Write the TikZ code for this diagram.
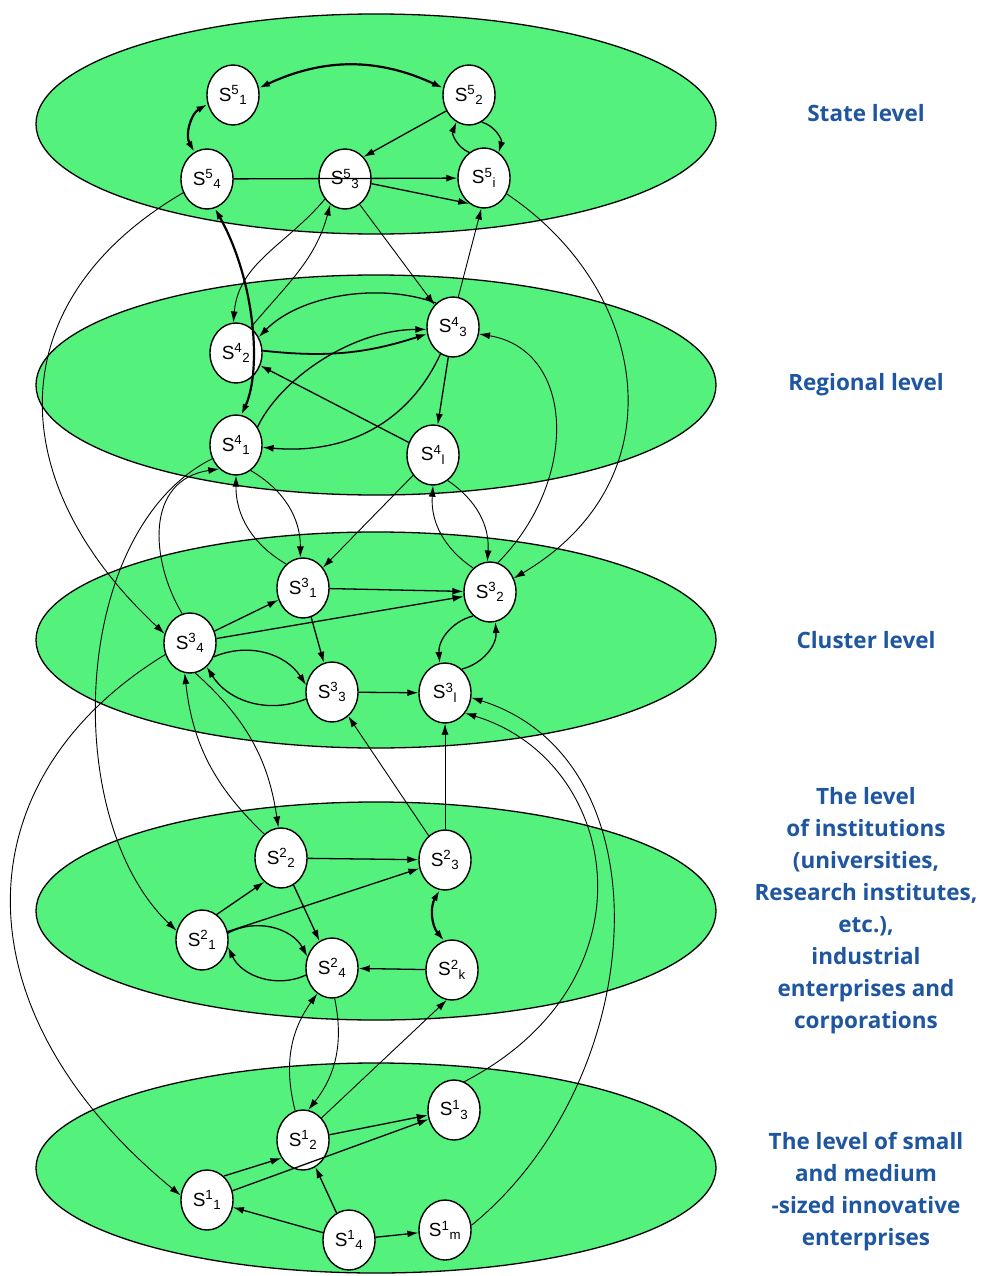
\documentclass[tikz,border=0pt]{standalone}
\usepackage{fontspec}
\usetikzlibrary{shapes.geometric,arrows.meta}

\newfontfamily\agentfamily{Liberation Sans}
\newfontfamily\captionfamily{Open Sans}

\definecolor{layergreen}{RGB}{84,242,125}
\definecolor{captionblue}{RGB}{30,86,160}

\newcommand{\agent}[2]{S\textsuperscript{#1}\textsubscript{#2}}

\tikzset{
    layer/.style={draw, line width=1.3pt, fill=layergreen},
    agent/.style={ellipse, draw, line width=1.4pt, fill=white,
        minimum width=52pt, minimum height=60pt, inner sep=0pt,
        font=\agentfamily\fontsize{19}{22}\selectfont},
    link/.style={-{Latex[length=11pt,width=7pt]}, line width=1.3pt},
    farlink/.style={link, line width=0.9pt},
    boldlink/.style={{Latex[length=11pt,width=7pt]}-{Latex[length=11pt,width=7pt]}, line width=2.2pt},
    caption/.style={text=captionblue, align=center,
        font=\captionfamily\bfseries\fontsize{22.5}{32}\selectfont}
}

\begin{document}
\begin{tikzpicture}[x=1pt, y=1pt]
    \path[fill=white, use as bounding box] (0,0) rectangle (982,-1276);

    % Levels
    \draw[layer] (376,-124) ellipse [x radius=340, y radius=110];
    \draw[layer] (376,-385) ellipse [x radius=340, y radius=110];
    \draw[layer] (376,-640) ellipse [x radius=340, y radius=108];
    \draw[layer] (376,-911) ellipse [x radius=340, y radius=109];
    \draw[layer] (376,-1168) ellipse [x radius=340, y radius=105];

    % State level
    \node[agent] (s51) at (233,-95) {\agent{5}{1}};
    \node[agent] (s52) at (469,-95) {\agent{5}{2}};
    \node[agent] (s54) at (207,-179) {\agent{5}{4}};
    \node[agent] (s53) at (345,-179) {\agent{5}{3}};
    \node[agent] (s5i) at (484,-178) {\agent{5}{i}};

    % Regional level
    \node[agent] (s42) at (236,-353) {\agent{4}{2}};
    \node[agent] (s43) at (453,-327) {\agent{4}{3}};
    \node[agent] (s41) at (236,-445) {\agent{4}{1}};
    \node[agent] (s4l) at (433,-455) {\agent{4}{l}};

    % Cluster level
    \node[agent] (s31) at (303,-588) {\agent{3}{1}};
    \node[agent] (s32) at (490,-592) {\agent{3}{2}};
    \node[agent] (s34) at (190,-643) {\agent{3}{4}};
    \node[agent] (s33) at (332,-692) {\agent{3}{3}};
    \node[agent] (s3l) at (445,-693) {\agent{3}{l}};

    % Institutions level
    \node[agent] (s22) at (281,-858) {\agent{2}{2}};
    \node[agent] (s23) at (445,-860) {\agent{2}{3}};
    \node[agent] (s21) at (202,-940) {\agent{2}{1}};
    \node[agent] (s24) at (332,-968) {\agent{2}{4}};
    \node[agent] (s2k) at (452,-970) {\agent{2}{k}};

    % Small and medium enterprises
    \node[agent] (s13) at (454,-1110) {\agent{1}{3}};
    \node[agent] (s12) at (303,-1140) {\agent{1}{2}};
    \node[agent] (s11) at (207,-1200) {\agent{1}{1}};
    \node[agent] (s14) at (349,-1240) {\agent{1}{4}};
    \node[agent] (s1m) at (445,-1230) {\agent{1}{m}};

    % Links inside the state level
    \draw[boldlink] (s51.15) to[bend left=25] (s52.165);
    \draw[boldlink] (s51.200) to[bend right=45] (s54.115);
    \draw[link] (s52.215) -- (s53.50);
    \draw[link] (s5i.120) to[bend left=45] (s52.245);
    \draw[link] (s52.295) to[bend left=45] (s5i.60);
    \draw[link] (s54) -- (s5i);
    \draw[link] (s53.-10) -- (s5i.240);

    % State <-> regional
    \draw[boldlink] (s54.-75) .. controls (255,-280) and (262,-370) .. (s41.80);
    \draw[farlink] (s53.225) to[out=230, in=85] (s42.95);
    \draw[farlink] (s42.60) to[out=50, in=-105] (s53.240);
    \draw[farlink] (s53.-60) -- (s43.130);
    \draw[farlink] (s43.80) -- (s5i.-95);
    \draw[farlink] (s54.210) .. controls (0,-300) and (0,-480) .. (s34.160);
    \draw[farlink] (s5i.-35) .. controls (650,-290) and (680,-480) .. (s32.30);

    % Links inside the regional level
    \draw[link] (s43) -- (s4l);
    \draw[link] (s4l) -- (s42);
    \draw[link] (s43.245) .. controls (410,-420) and (350,-455) .. (s41.-5);
    \draw[link] (s41.40) .. controls (280,-380) and (350,-330) .. (s43.185);
    \draw[link, line width=1.8pt] (s42.5) to[bend right=12] (s43.195);
    \draw[link] (s43.125) .. controls (380,-282) and (300,-295) .. (s42.35);

    % Regional <-> cluster
    \draw[farlink] (s41.-60) to[bend left=30] (s31.95);
    \draw[farlink] (s31.125) to[bend left=30] (s41.-90);
    \draw[farlink] (s4l) -- (s31);
    \draw[farlink] (s4l.-60) to[bend left=30] (s32.95);
    \draw[farlink] (s32.125) to[bend left=30] (s4l.-90);
    \draw[farlink] (s32.75) .. controls (580,-480) and (575,-350) .. (s43.-15);
    \draw[farlink] (s34.105) .. controls (150,-560) and (145,-480) .. (s41.235);
    \draw[farlink] (s41.210) .. controls (70,-530) and (60,-820) .. (s21.160);

    % Links inside the cluster level
    \draw[link] (s34) -- (s31);
    \draw[link] (s31) -- (s32);
    \draw[link] (s34) -- (s32);
    \draw[link] (s31) -- (s33);
    \draw[link] (s33) -- (s3l);
    \draw[link] (s34.-30) to[bend left=40] (s33.165);
    \draw[link] (s33.195) to[bend left=40] (s34.-55);
    \draw[link] (s32.235) to[bend right=40] (s3l.100);
    \draw[link] (s3l.55) to[bend right=40] (s32.-80);

    % Cluster <-> institutions
    \draw[farlink] (s34.-80) to[bend left=20] (s22.95);
    \draw[farlink] (s22.125) to[bend left=20] (s34.-100);
    \draw[farlink] (s23) -- (s33);
    \draw[farlink] (s23) -- (s3l);
    \draw[farlink] (s34.205) .. controls (-40,-780) and (-45,-1010) .. (s11.170);

    % Links inside the institutions level
    \draw[link] (s22) -- (s23);
    \draw[link] (s21.60) -- (s22.235);
    \draw[link] (s21) -- (s23);
    \draw[link] (s22) -- (s24);
    \draw[link] (s2k) -- (s24);
    \draw[link] (s21.15) to[bend left=45] (s24.155);
    \draw[link] (s24.195) to[bend left=45] (s21.-15);
    \draw[boldlink] (s23.-100) to[bend right=35] (s2k.105);

    % Institutions <-> small enterprises
    \draw[farlink] (s12.105) to[bend left=25] (s24.240);
    \draw[farlink] (s24.-85) to[bend left=25] (s12.80);
    \draw[farlink] (s12.50) -- (s2k.-100);
    \draw[farlink] (s13.70) .. controls (660,-980) and (620,-760) .. (s3l.-45);
    \draw[farlink] (s1m.10) .. controls (650,-1080) and (670,-760) .. (s3l.-10);

    % Links inside the small enterprises level
    \draw[link] (s11.55) -- (s12.220);
    \draw[link] (s12) -- (s13);
    \draw[link] (s11) -- (s13);
    \draw[link] (s14) -- (s12);
    \draw[link] (s14) -- (s11);
    \draw[link] (s14) -- (s1m);

    % Level names
    \node[caption] (cap5) at (866,-113) {State level};
    \node[caption] (cap4) at (866,-385) {Regional level};
    \node[caption] (cap3) at (866,-640) {Cluster level};
    \node[caption] (cap2) at (866,-911) {The level\\ of institutions\\ (universities,\\ Research institutes,\\ etc.),\\ industrial\\ enterprises and\\ corporations};
    \node[caption] (cap1) at (866,-1192) {The level of small\\ and medium\\ -sized innovative\\ enterprises};
\end{tikzpicture}
\end{document}
